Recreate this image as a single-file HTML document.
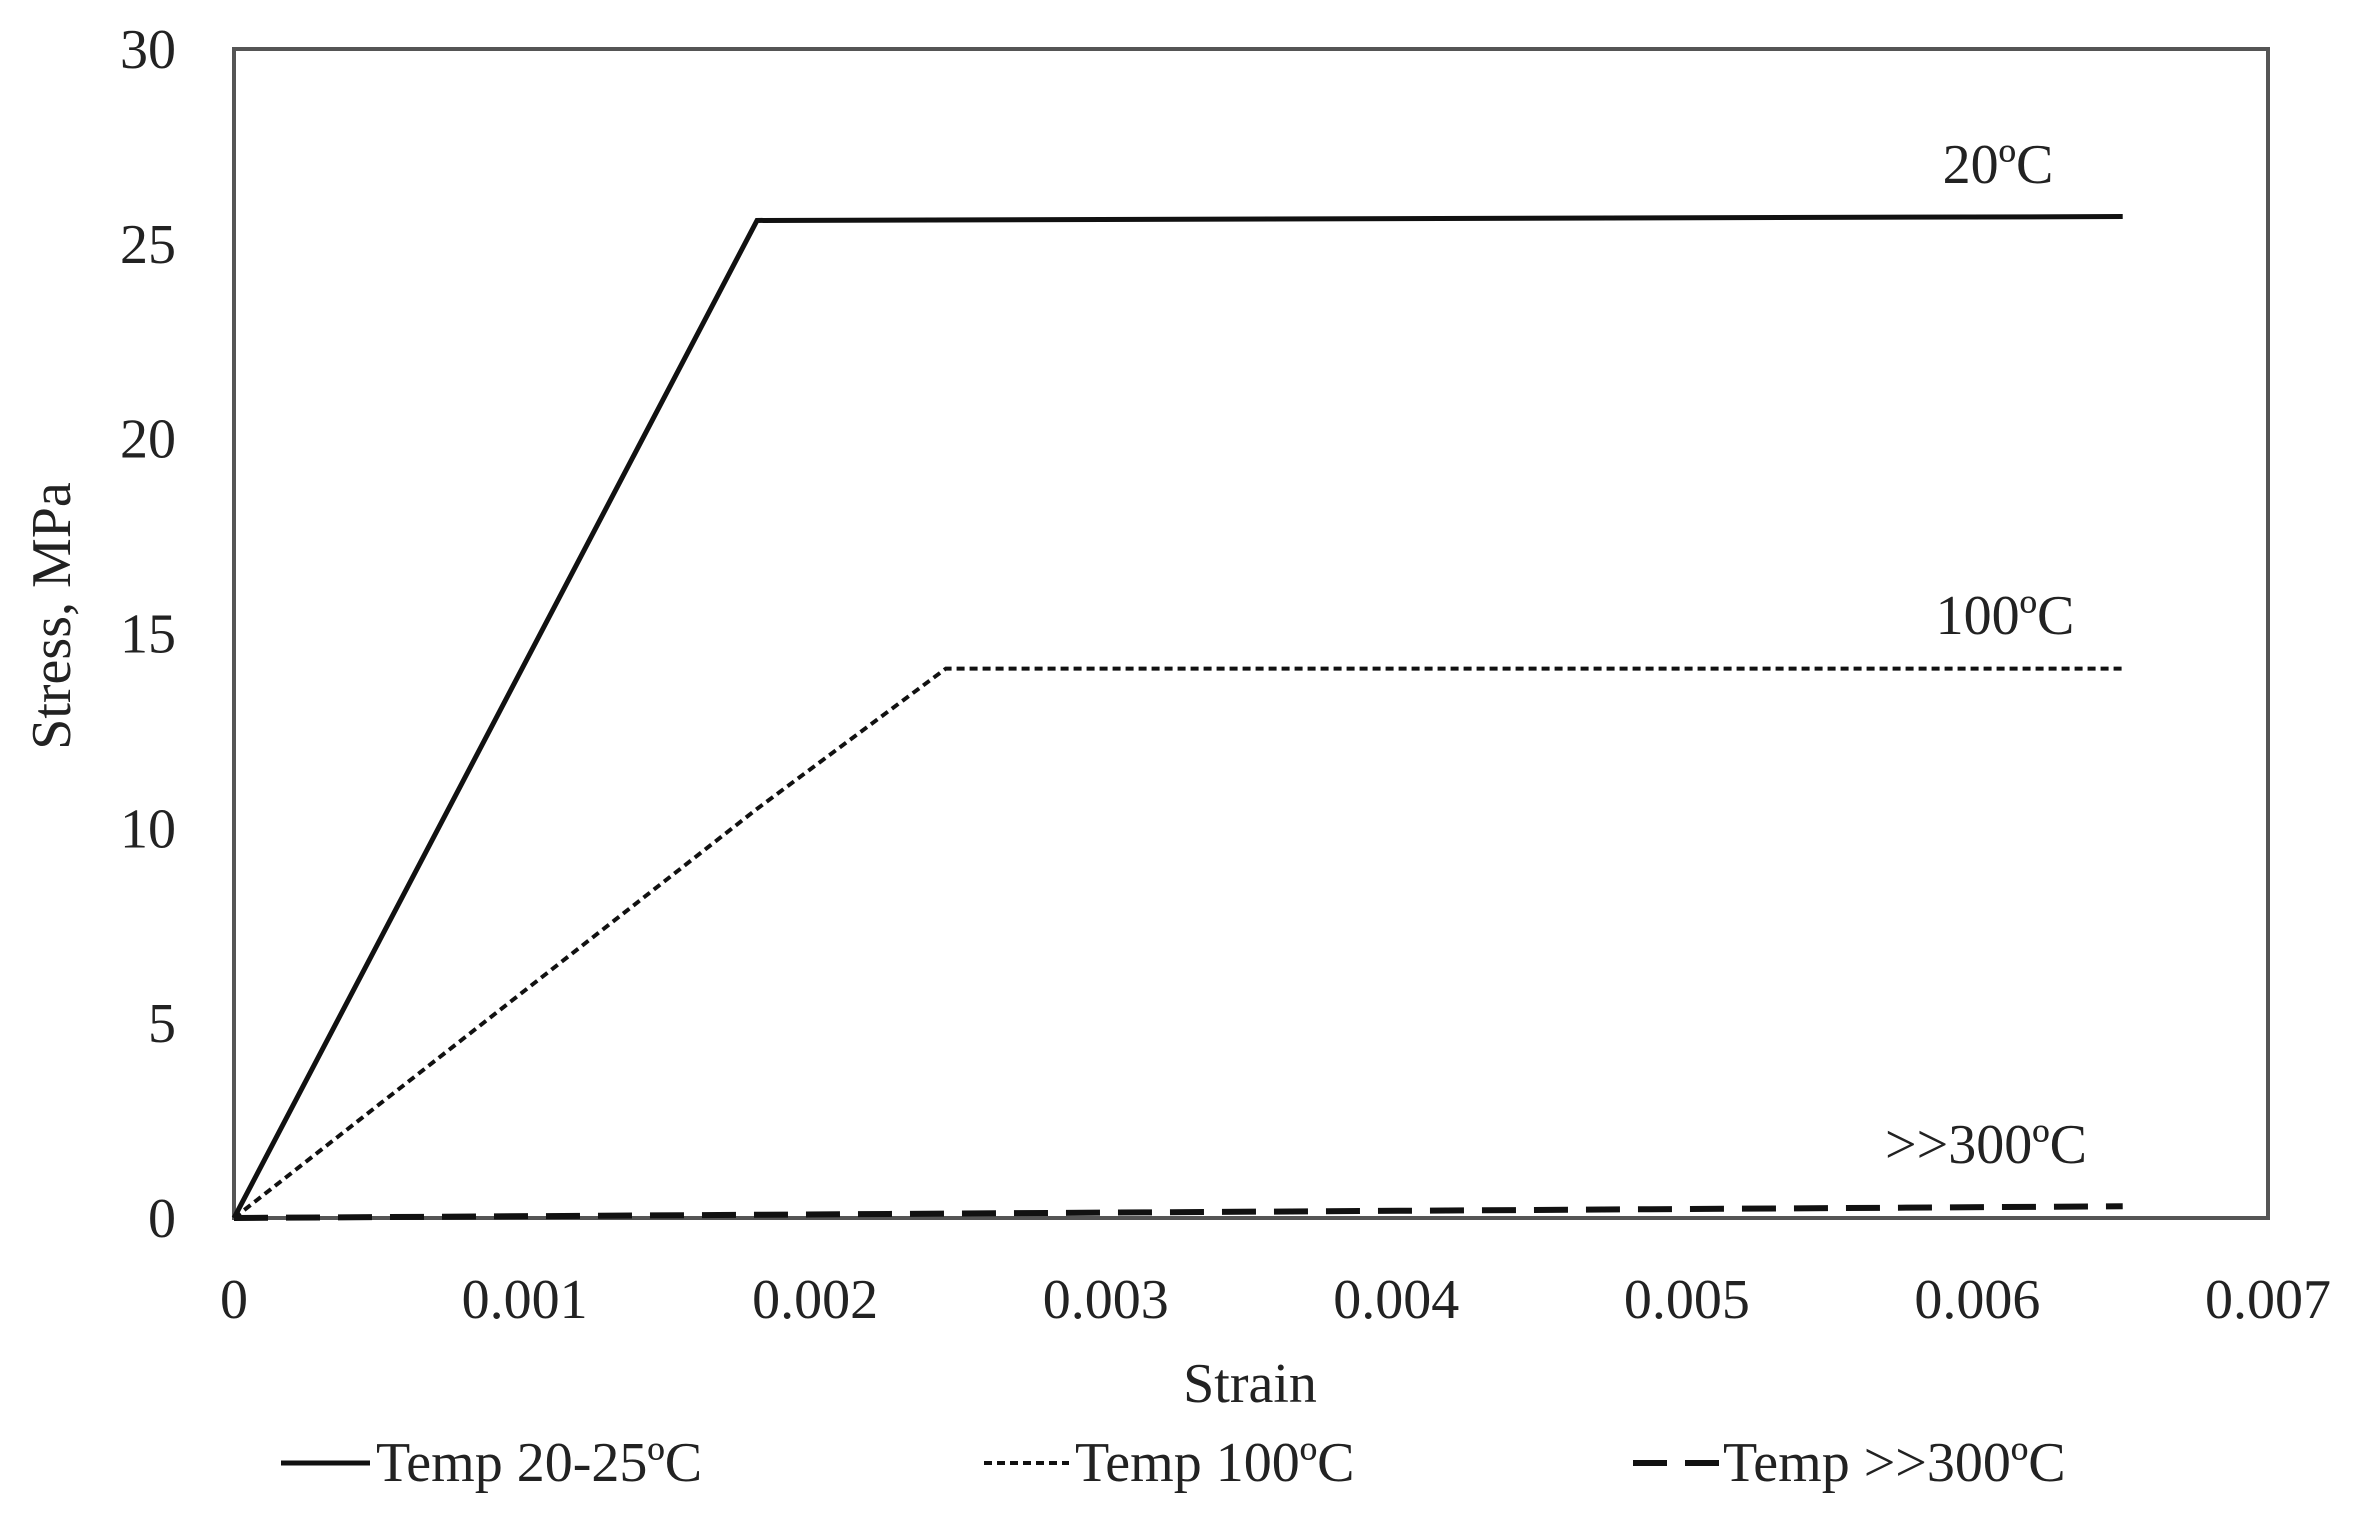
<!DOCTYPE html>
<html><head><meta charset="utf-8"><style>
html,body{margin:0;padding:0;background:#fff;}
svg{display:block;}
text{font-family:"Liberation Serif",serif;fill:#222;}
</style></head><body>
<svg id="chart" width="2355" height="1526" viewBox="0 0 2355 1526">
<rect x="234" y="49" width="2034" height="1169" fill="#fff" stroke="#555" stroke-width="4"/>
<g id="ticks"></g>
<g id="series"></g>
<text x="1250" y="1402" font-size="56" text-anchor="middle">Strain</text>
<text transform="translate(70,616) rotate(-90)" font-size="56" text-anchor="middle">Stress, MPa</text>
<text x="1998" y="183" font-size="56" text-anchor="middle">20ºC</text>
<text x="2005" y="634" font-size="56" text-anchor="middle">100ºC</text>
<text x="1986" y="1163" font-size="56" text-anchor="middle">&gt;&gt;300ºC</text>
<g>
<line x1="281" y1="1463" x2="370" y2="1463" stroke="#111" stroke-width="5"/>
<text x="376" y="1481" font-size="56">Temp 20-25ºC</text>
<line x1="984" y1="1463" x2="1069" y2="1463" stroke="#111" stroke-width="4" stroke-dasharray="8,5"/>
<text x="1075" y="1481" font-size="56">Temp 100ºC</text>
<line x1="1633" y1="1463" x2="1720" y2="1463" stroke="#111" stroke-width="6" stroke-dasharray="34,18"/>
<text x="1723" y="1481" font-size="56">Temp &gt;&gt;300ºC</text>
</g>
</svg>
<script>
const xTicks=[0,0.001,0.002,0.003,0.004,0.005,0.006,0.007];
const xTickLabels=["0","0.001","0.002","0.003","0.004","0.005","0.006","0.007"];
const yTicks=[0,5,10,15,20,25,30];
const yTickLabels=["0","5","10","15","20","25","30"];
const strain20=[0,0.0018,0.0065];
const stress20=[0,25.6,25.7];
const strain100=[0,0.0018,0.00245,0.0065];
const stress100=[0,10.5,14.1,14.1];
const strain300=[0,0.0065];
const stress300=[0,0.3];
const NS="http://www.w3.org/2000/svg";
function xs(v){return 234+v/0.007*2034;}
function ys(v){return 1218-v/30*1169;}
const tg=document.getElementById('ticks');
xTicks.forEach((t,i)=>{const e=document.createElementNS(NS,'text');
e.setAttribute('x',xs(t));e.setAttribute('y',1318);e.setAttribute('font-size','56');e.setAttribute('text-anchor','middle');


e.textContent=xTickLabels[i];tg.appendChild(e);});
yTicks.forEach((t,i)=>{const e=document.createElementNS(NS,'text');
e.setAttribute('x',176);e.setAttribute('y',ys(t)+19);e.setAttribute('font-size','56');e.setAttribute('text-anchor','end');


e.textContent=yTickLabels[i];tg.appendChild(e);});
const sg=document.getElementById('series');
function line(xa,ya,w,dash,name){const p=document.createElementNS(NS,'polyline');
p.setAttribute('points',xa.map((x,i)=>xs(x)+','+ys(ya[i])).join(' '));
p.setAttribute('fill','none');p.setAttribute('stroke','#111');p.setAttribute('stroke-width',w);
if(dash)p.setAttribute('stroke-dasharray',dash);


sg.appendChild(p);}
line(strain20,stress20,5,null,'series-20c');
line(strain100,stress100,4,'8,5','series-100c');
line(strain300,stress300,6,'34,18','series-300c');
</script>
</body></html>
